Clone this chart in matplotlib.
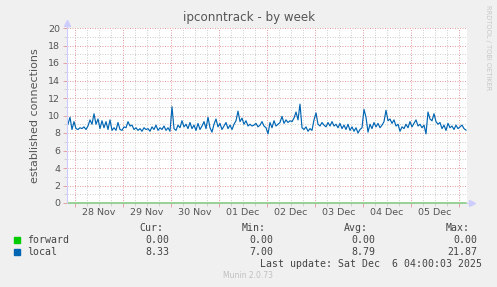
import matplotlib.pyplot as plt
import matplotlib.dates as mdates
from matplotlib.patches import Rectangle
import pandas as pd

# hourly samples of "local" established connections, 27 Nov 20:30 .. 6 Dec 03:30
local = [
    9.0, 9.8, 8.4, 9.3, 8.5, 8.4, 8.6, 8.5, 8.7, 8.4,
    8.8, 9.5, 9.0, 10.2, 9.0, 9.6, 8.5, 9.4, 8.6, 9.3,
    8.4, 9.5, 8.3, 8.6, 8.3, 9.2, 8.4, 8.3, 8.7, 8.6,
    9.3, 8.8, 8.9, 8.4, 8.6, 8.3, 8.5, 8.2, 8.6, 8.4,
    8.5, 8.2, 8.7, 8.4, 8.9, 8.3, 8.6, 8.4, 8.8, 8.3,
    8.6, 8.2, 11.0, 8.5, 8.3, 8.9, 8.6, 9.4, 8.7, 9.0,
    8.5, 9.2, 8.5, 8.9, 8.3, 9.1, 8.4,
    8.8, 9.3, 8.5, 9.8, 8.6, 8.1, 9.0, 9.6, 8.7, 9.1,
    8.4, 8.8, 9.2, 8.5, 8.9, 8.4, 9.0, 9.4, 10.5, 9.3,
    9.7, 9.0, 9.4, 8.8, 9.0, 8.8, 8.9, 9.1, 8.7, 8.9,
    9.3, 8.8, 8.6, 7.9, 9.2, 8.6, 9.4, 8.8, 9.0, 9.2,
    9.9, 9.1, 9.5, 9.2, 9.4, 9.3, 9.7, 10.4, 9.5, 11.3,
    8.6, 8.4, 8.7, 8.2, 8.5, 8.3, 9.5, 10.3, 9.0, 8.8,
    9.2, 8.9, 8.7, 9.2, 8.8, 9.3, 8.8,
    9.0, 8.6, 9.1, 8.5, 8.9, 8.4, 9.0, 8.3, 8.7, 8.2,
    8.6, 8.0, 8.4, 8.6, 10.7, 9.8, 8.1, 9.0, 8.5, 9.2,
    8.7, 9.1, 8.6, 8.9, 9.3, 10.6, 9.4, 9.6, 9.1, 9.5,
    8.8, 9.0, 8.2, 8.7, 8.5, 9.0, 8.6, 9.3, 8.7, 9.1,
    9.5, 8.8, 9.0, 8.6, 8.9, 7.9, 10.4, 9.6, 9.4, 10.2,
    9.3, 9.0, 9.2, 8.5, 8.9, 8.3, 9.1, 8.6, 8.8, 8.4,
    8.9, 8.5, 8.7, 8.9, 8.5, 8.33,
]
forward = [0.0] * len(local)
times = pd.date_range('2025-11-27 20:30', periods=len(local), freq='h')

day_labels = ['28 Nov', '29 Nov', '30 Nov', '01 Dec', '02 Dec', '03 Dec', '04 Dec', '05 Dec']
label_times = pd.date_range('2025-11-28 12:00', periods=len(day_labels), freq='D')

stats_head = ['Cur:', 'Min:', 'Avg:', 'Max:']
stats_forward = ['0.00', '0.00', '0.00', '0.00']
stats_local = ['8.33', '7.00', '8.79', '21.87']

W, H = 497, 287
txt = '#555555'
fig = plt.figure(figsize=(W / 100, H / 100), dpi=100, facecolor='#f0f0f0')
ax = fig.add_axes([67 / W, 1 - 203 / H, 400 / W, 175 / H])
ax.set_facecolor('white')

ax.plot(times, local, color='#0066b3', lw=0.85, zorder=3)
ax.plot(times, forward, color='#7cc87c', lw=1.1, zorder=4, clip_on=False)

ax.set_xlim(pd.Timestamp('2025-11-27 20:00'), pd.Timestamp('2025-12-06 04:00'))
ax.set_ylim(0, 20)
ax.set_yticks(range(0, 21, 2))
ax.set_yticks(range(1, 20, 2), minor=True)
ax.xaxis.set_major_locator(mdates.DayLocator())
ax.xaxis.set_minor_locator(mdates.HourLocator(byhour=[6, 12, 18]))
ax.xaxis.set_major_formatter(plt.NullFormatter())

ax.grid(which='major', color='#e6a0a0', lw=0.72, ls=(0, (1, 1.5)), zorder=1)
ax.grid(which='minor', color='#d0d0d0', lw=0.72, ls=(0, (1, 1.5)), zorder=0)
ax.tick_params(which='major', length=3, width=0.7, color='#e6a0a0', labelsize=6.8,
               labelcolor=txt, pad=2)
ax.tick_params(which='minor', length=2, width=0.7, color='#d2d2d2')
for s in ax.spines.values():
    s.set_visible(False)

for t, lab in zip(label_times, day_labels):
    ax.text(t, -9.5 / 175, lab, transform=ax.get_xaxis_transform(), ha='center', va='center',
            fontsize=6.8, color=txt)

# axis lines with arrows
ax.plot([0, 0], [0, 1.03], transform=ax.transAxes, color='#ccccff', lw=0.8, clip_on=False, zorder=5)
ax.plot([0], [1.03], marker='^', ms=4, color='#ccccff', transform=ax.transAxes, clip_on=False)
ax.plot([1.0, 1.012], [0, 0], transform=ax.transAxes, color='#ccccff', lw=0.8, clip_on=False)
ax.plot([1.012], [0], marker='>', ms=4, color='#ccccff', transform=ax.transAxes, clip_on=False)

ax.set_ylabel('established connections', fontsize=8.0, color=txt, labelpad=6)
fig.text(249 / W, 1 - 18 / H, 'ipconntrack - by week', ha='center', va='center',
         fontsize=8.6, color=txt)
fig.text(488 / W, 1 - 5 / H, 'RRDTOOL / TOBI OETIKER', rotation=270, ha='center', va='top',
         fontsize=4.8, color='#c8c8c8')

mono = dict(family='DejaVu Sans Mono', fontsize=7.1, color='#444444', va='center')
head_x = [163, 266, 368, 470]
val_x = [169, 273, 375, 477]
for x, h in zip(head_x, stats_head):
    fig.text(x / W, 1 - 228 / H, h, ha='right', **mono)
for y, name, col, vals in [(240, 'forward', '#00cc00', stats_forward),
                           (252, 'local', '#0066b3', stats_local)]:
    fig.add_artist(Rectangle((14 / W, 1 - (y + 3) / H), 6 / W, 6 / H, color=col,
                             transform=fig.transFigure))
    fig.text(27 / W, 1 - y / H, name, ha='left', **mono)
    for x, v in zip(val_x, vals):
        fig.text(x / W, 1 - y / H, v, ha='right', **mono)
fig.text(482 / W, 1 - 264 / H, 'Last update: Sat Dec  6 04:00:03 2025', ha='right', **mono)
fig.text(248 / W, 1 - 276 / H, 'Munin 2.0.73', ha='center', va='center', fontsize=5.5,
         color='#c0c0c0')

fig.savefig('out.png', dpi=100, facecolor=fig.get_facecolor())
